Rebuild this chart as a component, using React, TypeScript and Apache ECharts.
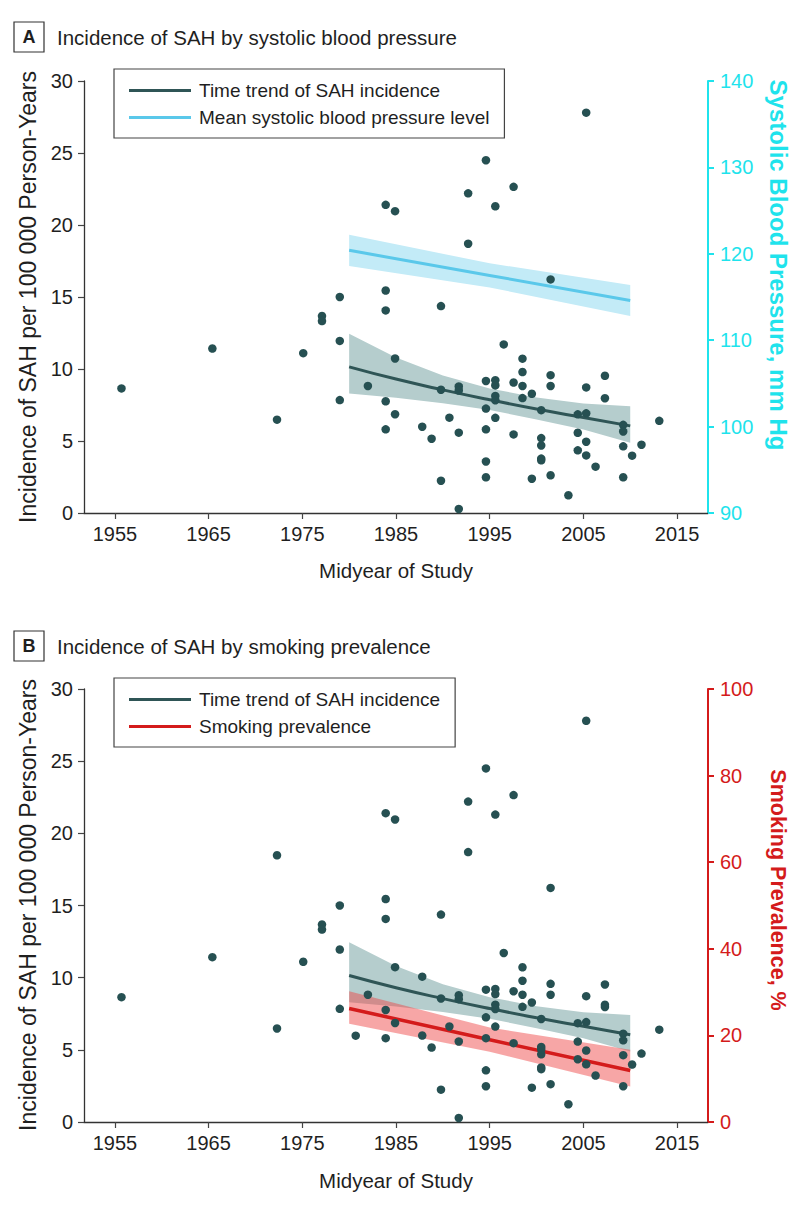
import React, { useEffect, useRef } from "react";
import * as echarts from "echarts";

const FONT = "'Liberation Sans', Arial, sans-serif";

// Studies (midyear, incidence per 100 000 person-years) shown in both panels
const sharedStudies: [number, number][] = [
  [1955.7, 8.65], [1965.4, 11.42], [1972.3, 6.48], [1975.1, 11.1],
  [1977.1, 13.68], [1977.1, 13.33], [1979.0, 15.0], [1979.0, 11.95], [1979.0, 7.84],
  [1982.0, 8.82], [1983.9, 21.4], [1983.9, 15.45], [1983.9, 14.07], [1983.9, 7.76], [1983.9, 5.81],
  [1984.9, 20.96], [1984.9, 10.73], [1984.9, 6.86], [1987.8, 5.99], [1988.8, 5.16],
  [1989.8, 14.37], [1989.8, 8.56], [1989.8, 2.24], [1990.7, 6.62],
  [1991.7, 8.79], [1991.7, 8.51], [1991.7, 5.58], [1991.7, 0.28],
  [1992.7, 22.2], [1992.7, 18.7],
  [1994.6, 24.5], [1994.6, 9.17], [1994.6, 7.25], [1994.6, 5.81], [1994.6, 3.58], [1994.6, 2.48],
  [1995.6, 21.3], [1995.6, 9.22], [1995.6, 8.86], [1995.6, 8.13], [1995.6, 7.83], [1995.6, 6.61],
  [1996.5, 11.71], [1997.55, 22.65], [1997.55, 9.06], [1997.55, 5.46],
  [1998.5, 10.72], [1998.5, 9.79], [1998.5, 8.82], [1998.5, 7.98],
  [1999.5, 8.28], [1999.5, 2.38],
  [2000.5, 7.14], [2000.5, 5.2], [2000.5, 4.69], [2000.5, 3.78], [2000.5, 3.66],
  [2001.5, 16.22], [2001.5, 9.57], [2001.5, 8.82], [2001.5, 2.62],
  [2003.4, 1.23], [2004.4, 6.85], [2004.4, 5.57], [2004.4, 4.35],
  [2005.3, 27.8], [2005.3, 8.72], [2005.3, 6.92], [2005.3, 4.95], [2005.3, 4.0],
  [2006.3, 3.22], [2007.3, 9.53], [2007.3, 7.97],
  [2009.25, 6.12], [2009.25, 5.66], [2009.25, 4.63], [2009.25, 2.48],
  [2010.2, 3.98], [2011.2, 4.74], [2013.1, 6.4],
];
// Studies that appear only in the smoking-prevalence panel
const smokingOnlyStudies: [number, number][] = [
  [1972.3, 18.48], [1980.7, 5.98], [1987.8, 10.07], [2000.5, 5.04], [2007.3, 8.12],
];

// Fitted time trend of SAH incidence with 95% CI
const trendYears = [1980, 1985, 1990, 1995, 2000, 2005, 2010];
const trendRate = [10.15, 9.3, 8.55, 7.86, 7.22, 6.63, 6.05];
const trendUpper = [12.45, 10.8, 9.55, 8.65, 8.02, 7.6, 7.42];
const trendLower = [8.3, 8.0, 7.62, 7.15, 6.5, 5.8, 4.88];

// Mean systolic blood pressure (mm Hg) with 95% CI
const sbpYears = [1980, 1995, 2010];
const sbpMean = [120.4, 117.5, 114.6];
const sbpUpper = [122.2, 118.9, 116.4];
const sbpLower = [118.6, 116.1, 112.8];

// Smoking prevalence (%) with 95% CI
const smokingYears = [1980, 1995, 2010];
const smokingPrev = [26.2, 19.0, 11.9];
const smokingUpper = [30.2, 21.8, 16.7];
const smokingLower = [22.7, 16.2, 8.2];

const xTickYears = [1955, 1965, 1975, 1985, 1995, 2005, 2015];

const TREND_NAME = "Time trend of SAH incidence";
const SBP_NAME = "Mean systolic blood pressure level";
const SMOKE_NAME = "Smoking prevalence";

const DOT = "#265052";
const DARK = "#2f5556";
const DARK_BAND = "#b5cdcd";
const CYAN_LINE = "#5ac8ea";
const CYAN_BAND = "#c3ebf7";
const CYAN_AXIS = "#1fe3ec";
const RED = "#d41b1b";
const RED_BAND = "rgba(238,70,70,0.48)";
const TEXT = "#1f1f1f";

function band(years: number[], lower: number[], upper: number[], xi: number, yi: number, color: string, z: number) {
  return {
    type: "custom", xAxisIndex: xi, yAxisIndex: yi, z, silent: true, clip: true,
    data: years.map((y, i) => [y, lower[i], upper[i]]),
    encode: { x: 0, y: [1, 2] },
    renderItem: (params: any, api: any) => {
      if (params.dataIndex !== 0) return null;
      const pts: number[][] = [];
      for (let i = 0; i < years.length; i++) pts.push(api.coord([years[i], upper[i]]));
      for (let i = years.length - 1; i >= 0; i--) pts.push(api.coord([years[i], lower[i]]));
      return { type: "polygon", shape: { points: pts }, style: { fill: color } };
    },
  };
}

function line(name: string, years: number[], vals: number[], xi: number, yi: number, color: string, width: number, smooth: boolean, z: number) {
  return {
    type: "line", name, xAxisIndex: xi, yAxisIndex: yi, smooth, symbol: "none", z,
    data: years.map((y, i) => [y, vals[i]]),
    itemStyle: { color }, lineStyle: { color, width },
  };
}

const plainNumber = (v: number) => String(v);

function xAxis(gridIndex: number) {
  return {
    type: "value", gridIndex, min: 1951.7, max: 2018.3,
    axisLine: { show: true, lineStyle: { color: "#333", width: 1.3 } },
    axisTick: { show: true, customValues: xTickYears, length: 6, lineStyle: { color: "#444", width: 1.2 } },
    axisLabel: { customValues: xTickYears, formatter: plainNumber, fontSize: 20, color: TEXT, margin: 11, fontFamily: FONT },
    splitLine: { show: false },
  };
}

function leftAxis(gridIndex: number) {
  return {
    type: "value", gridIndex, min: 0, max: 30, interval: 5, position: "left",
    axisLine: { show: true, lineStyle: { color: "#333", width: 1.3 } },
    axisTick: { show: true, length: 6, lineStyle: { color: "#444", width: 1.2 } },
    axisLabel: { fontSize: 20, color: TEXT, margin: 11, fontFamily: FONT, formatter: plainNumber },
    splitLine: { show: false },
  };
}

function rightAxis(gridIndex: number, min: number, max: number, interval: number, color: string) {
  return {
    type: "value", gridIndex, min, max, interval, position: "right",
    axisLine: { show: true, lineStyle: { color, width: 2 } },
    axisTick: { show: true, length: 6, lineStyle: { color, width: 2 } },
    axisLabel: { fontSize: 20, color, margin: 12, fontFamily: FONT, formatter: plainNumber },
    splitLine: { show: false },
  };
}

function legend(top: number, names: string[]) {
  return {
    orient: "vertical", left: 114, top, data: names, icon: "rect",
    itemWidth: 62, itemHeight: 3, itemGap: 8, selectedMode: false,
    padding: [12, 15, 11, 15], borderColor: "#444", borderWidth: 1.2,
    textStyle: { fontSize: 19, color: TEXT, fontFamily: FONT, padding: [0, 0, 0, 3] },
  };
}

function panelHeader(letter: string, title: string, cy: number) {
  return [
    { type: "rect", shape: { x: 14, y: cy - 15, width: 30, height: 30 }, style: { fill: "#fff", stroke: "#333", lineWidth: 1.2 } },
    { type: "text", x: 29, y: cy, style: { text: letter, fontSize: 18, fontWeight: "bold", fill: TEXT, fontFamily: FONT, align: "center", verticalAlign: "middle" } },
    { type: "text", x: 57, y: cy, style: { text: title, fontSize: 20.5, fill: TEXT, fontFamily: FONT, align: "left", verticalAlign: "middle" } },
  ];
}

function axisName(text: string, x: number, y: number, rotation: number, color: string, size: number, weight: string = "normal") {
  return { type: "text", x, y, rotation, style: { text, fontSize: size, fill: color, fontWeight: weight, fontFamily: FONT, align: "center", verticalAlign: "middle" } };
}

export default function App() {
  const ref = useRef<HTMLDivElement>(null);
  useEffect(() => {
    if (!ref.current) return;
    const chart = echarts.init(ref.current, null, { renderer: "svg" });
    const dotStyle = { color: DOT, opacity: 1 };
    chart.setOption({
      animation: false,
      backgroundColor: "#fff",
      textStyle: { fontFamily: FONT },
      grid: [
        { left: 84, right: 86, top: 81, height: 432 },
        { left: 84, right: 86, top: 689, height: 433 },
      ],
      xAxis: [xAxis(0), xAxis(1)],
      yAxis: [
        leftAxis(0),
        rightAxis(0, 90, 140, 10, CYAN_AXIS),
        leftAxis(1),
        rightAxis(1, 0, 100, 20, RED),
      ],
      legend: [legend(69, [TREND_NAME, SBP_NAME]), legend(678, [TREND_NAME, SMOKE_NAME])],
      series: [
        // Panel A
        band(trendYears, trendLower, trendUpper, 0, 0, DARK_BAND, 1),
        band(sbpYears, sbpLower, sbpUpper, 0, 1, CYAN_BAND, 1),
        line(TREND_NAME, trendYears, trendRate, 0, 0, DARK, 3, true, 3),
        line(SBP_NAME, sbpYears, sbpMean, 0, 1, CYAN_LINE, 3, false, 3),
        { type: "scatter", name: "Studies A", xAxisIndex: 0, yAxisIndex: 0, data: sharedStudies, symbolSize: 8.5, itemStyle: dotStyle, z: 5 },
        // Panel B
        band(trendYears, trendLower, trendUpper, 1, 2, DARK_BAND, 1),
        band(smokingYears, smokingLower, smokingUpper, 1, 3, RED_BAND, 2),
        line(TREND_NAME, trendYears, trendRate, 1, 2, DARK, 3, true, 3),
        line(SMOKE_NAME, smokingYears, smokingPrev, 1, 3, RED, 3.5, false, 3),
        { type: "scatter", name: "Studies B", xAxisIndex: 1, yAxisIndex: 2, data: [...sharedStudies, ...smokingOnlyStudies], symbolSize: 8.5, itemStyle: dotStyle, z: 5 },
      ],
      graphic: [
        ...panelHeader("A", "Incidence of SAH by systolic blood pressure", 37),
        ...panelHeader("B", "Incidence of SAH by smoking prevalence", 646),
        axisName("Incidence of SAH per 100 000 Person-Years", 28, 297, Math.PI / 2, TEXT, 23),
        axisName("Midyear of Study", 396, 570, 0, TEXT, 20.5),
        axisName("Systolic Blood Pressure, mm Hg", 778, 265, -Math.PI / 2, CYAN_AXIS, 24, "bold"),
        axisName("Incidence of SAH per 100 000 Person-Years", 28, 905, Math.PI / 2, TEXT, 23),
        axisName("Midyear of Study", 396, 1180, 0, TEXT, 20.5),
        axisName("Smoking Prevalence, %", 778, 890, -Math.PI / 2, RED, 21.5, "bold"),
      ],
    });
    return () => chart.dispose();
  }, []);
  return <div ref={ref} style={{ position: "absolute", left: 0, top: 0, width: 794, height: 1207 }} />;
}
